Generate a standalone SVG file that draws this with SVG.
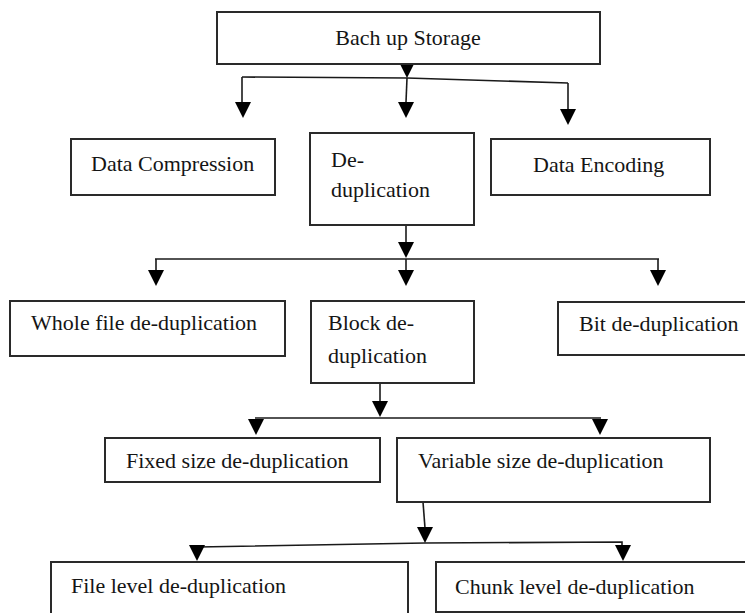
<svg xmlns="http://www.w3.org/2000/svg" xmlns:xlink="http://www.w3.org/1999/xlink" width="745" height="613" viewBox="0 0 745 613">
<style>
.box{fill:#fff;stroke:#2a2a2a;stroke-width:2}
.t{font-family:"Liberation Serif","Times New Roman",serif;font-size:22px;fill:#151515}
.ln{fill:none;stroke:#1a1a1a;stroke-width:1.6}
.ah{fill:#000}
</style>
<defs>
<path id="ah" class="ah" d="M-8,0 L8,0 L0,16 Z"/>
</defs>
<rect width="745" height="613" fill="#fff"/>
<g id="connectors">
<path class="ln" d="M242,77 L407,78 L568,83"/>
<path class="ln" d="M242,77 V102"/>
<path class="ln" d="M407,78 L406,102"/>
<path class="ln" d="M568,83 V109"/>
<path class="ln" d="M406,225 V243"/>
<path class="ln" d="M155,259 H659"/>
<path class="ln" d="M156,259 V270 M406,259 V270 M658,259 V270"/>
<path class="ln" d="M380,383 V402"/>
<path class="ln" d="M255,418 H601"/>
<path class="ln" d="M423,502 L425,528"/>
<path class="ln" d="M198,547 L425,543 L622,542 V546"/>
<use xlink:href="#ah" x="407" y="62"/>
<use xlink:href="#ah" x="243" y="102"/>
<use xlink:href="#ah" x="406" y="102"/>
<use xlink:href="#ah" x="568" y="109"/>
<use xlink:href="#ah" x="406" y="242"/>
<use xlink:href="#ah" x="156" y="270"/>
<use xlink:href="#ah" x="406" y="270"/>
<use xlink:href="#ah" x="658" y="270"/>
<use xlink:href="#ah" x="380" y="401"/>
<use xlink:href="#ah" x="256" y="419"/>
<use xlink:href="#ah" x="600" y="419"/>
<use xlink:href="#ah" x="425" y="527"/>
<use xlink:href="#ah" x="197" y="545"/>
<use xlink:href="#ah" x="623" y="545"/>
</g>
<g id="backup-storage">
<rect class="box" x="217" y="12" width="383" height="52"/>
<text class="t" x="408" y="45" text-anchor="middle">Bach up Storage</text>
</g>
<g id="data-compression">
<rect class="box" x="71" y="139" width="204" height="56"/>
<text class="t" x="91" y="171">Data Compression</text>
</g>
<g id="de-duplication">
<rect class="box" x="310" y="133" width="164" height="92"/>
<text class="t" x="331" y="167">De-</text>
<text class="t" x="331" y="197">duplication</text>
</g>
<g id="data-encoding">
<rect class="box" x="491" y="139" width="219" height="56"/>
<text class="t" x="533" y="172">Data Encoding</text>
</g>
<g id="whole-file">
<rect class="box" x="10" y="301" width="275" height="55"/>
<text class="t" x="31" y="330">Whole file de-duplication</text>
</g>
<g id="block">
<rect class="box" x="311" y="301" width="163" height="82"/>
<text class="t" x="328" y="330">Block de-</text>
<text class="t" x="328" y="363">duplication</text>
</g>
<g id="bit">
<rect class="box" x="558" y="302" width="202" height="53"/>
<text class="t" x="579" y="331">Bit de-duplication</text>
</g>
<g id="fixed-size">
<rect class="box" x="105" y="438" width="275" height="44"/>
<text class="t" x="126" y="468">Fixed size de-duplication</text>
</g>
<g id="variable-size">
<rect class="box" x="397" y="438" width="313" height="64"/>
<text class="t" x="418" y="468">Variable size de-duplication</text>
</g>
<g id="file-level">
<rect class="box" x="51" y="562" width="357" height="60"/>
<text class="t" x="71" y="593">File level de-duplication</text>
</g>
<g id="chunk-level">
<rect class="box" x="436" y="562" width="324" height="50"/>
<text class="t" x="455" y="594">Chunk level de-duplication</text>
</g>
</svg>
